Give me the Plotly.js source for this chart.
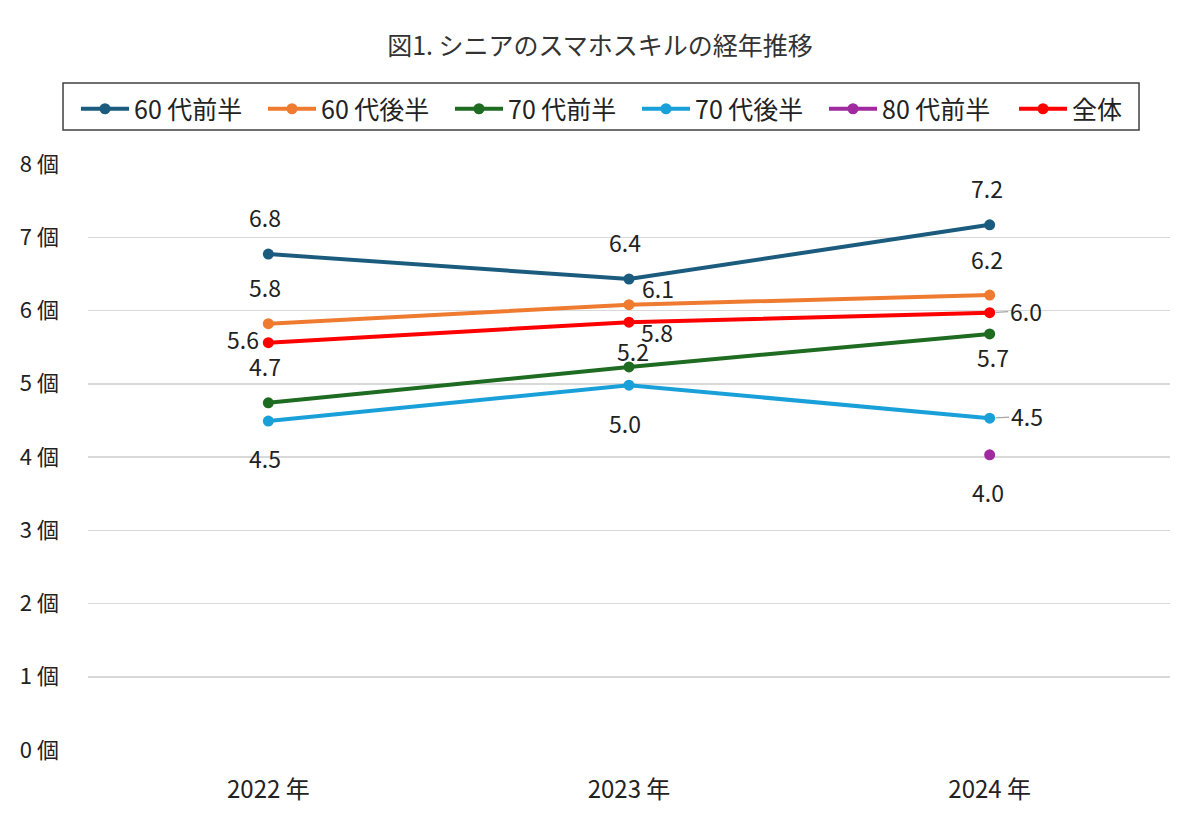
<!DOCTYPE html>
<html>
<head>
<meta charset="utf-8">
<script src="https://cdn.plot.ly/plotly-3.0.1.min.js"></script>
<style>html,body{margin:0;padding:0;background:#fff;}#chart{width:1200px;height:827px;}</style>
</head>
<body>
<div id="chart"></div>
<script>
// ---- data ----
const years = ["2022 年", "2023 年", "2024 年"];
const seriesNames = ["60 代前半", "60 代後半", "70 代前半", "70 代後半", "80 代前半", "全体"];
const s60early = [6.77, 6.43, 7.17];
const s60late  = [5.82, 6.08, 6.21];
const s70early = [4.74, 5.23, 5.68];
const s70late  = [4.49, 4.98, 4.53];
const s80early = [null, null, 4.03];
const sTotal   = [5.56, 5.84, 5.97];
const yTicks = [0, 1, 2, 3, 4, 5, 6, 7, 8];
const yTickText = yTicks.map(v => v + ' 個');

// ---- styles ----
const FONT = '"Noto Sans CJK JP", "Noto Sans", sans-serif';
const colors = ["#1b5c7e", "#ee7b30", "#1e6b22", "#1aa0d9", "#a02ba0", "#ff0000"];
const values = [s60early, s60late, s70early, s70late, s80early, sTotal];
// which legend box group each series goes into (last one placed separately to avoid wrapping)
const legendGroupOf = ['legend', 'legend', 'legend', 'legend', 'legend', 'legend2'];
// label offsets (px) per series/point: [ax, ay, leader]
const labelOffsets = [
  [[-3, -37], [-4, -37], [-3, -37]],
  [[-3, -37], [29, -17], [-3, -36]],
  [[-3, -37], [4, -16], [3, 23]],
  [[-3, 37], [-4, 38], [37, -2, true]],
  [null, null, [-2, 37]],
  [[-25, -4], [28, 10], [36, -2, true]]
];

const traces = values.map((v, i) => ({
  type: 'scatter', mode: 'lines+markers',
  x: years, y: v, name: seriesNames[i],
  legend: legendGroupOf[i],
  line: {color: colors[i], width: 4},
  marker: {color: colors[i], size: 11},
  hoverinfo: 'skip'
}));

const annotations = [];
values.forEach((v, i) => {
  v.forEach((val, j) => {
    if (val === null) return;
    const off = labelOffsets[i][j];
    const leader = !!off[2];
    annotations.push({
      x: years[j], y: val, xref: 'x', yref: 'y',
      text: val.toFixed(1),
      showarrow: true, ax: off[0], ay: off[1],
      arrowhead: 0, arrowwidth: 1.2,
      arrowcolor: leader ? '#a6a6a6' : 'rgba(0,0,0,0)',
      standoff: leader ? 6 : 0,
      font: {family: FONT, size: 23, color: '#222'}
    });
  });
});

const legendCommon = {
  orientation: 'h', xref: 'container', yref: 'container',
  xanchor: 'left', y: 1 - 86 / 827, yanchor: 'top',
  itemwidth: 48, entrywidth: 124, entrywidthmode: 'pixels',
  font: {family: FONT, size: 25, color: '#222'},
  bgcolor: 'rgba(0,0,0,0)', borderwidth: 0,
  traceorder: 'normal', itemclick: false
};

const layout = {
  width: 1200, height: 827,
  margin: {l: 88, r: 30, t: 164, b: 77},
  paper_bgcolor: '#fff', plot_bgcolor: '#fff',
  font: {family: FONT, color: '#222'},
  title: {
    text: '図1. シニアのスマホスキルの経年推移',
    font: {family: FONT, size: 25, color: '#333'},
    x: 0.5, xref: 'container', xanchor: 'center',
    y: 1 - 46 / 827, yref: 'container', yanchor: 'middle'
  },
  xaxis: {
    type: 'category', range: [-0.5, 2.5],
    showgrid: false, zeroline: false, showline: false, ticks: '',
    ticklabelstandoff: 23,
    tickfont: {family: FONT, size: 24, color: '#222'}
  },
  yaxis: {
    range: [0, 8], tickmode: 'array', tickvals: yTicks, ticktext: yTickText,
    showgrid: true, gridcolor: '#d9d9d9', gridwidth: 1.5,
    zeroline: false, showline: false, ticks: '',
    ticklabelstandoff: 28,
    tickfont: {family: FONT, size: 22, color: '#222'}
  },
  showlegend: true,
  legend: Object.assign({}, legendCommon, {x: 76 / 1200}),
  legend2: Object.assign({}, legendCommon, {x: 1014 / 1200, entrywidth: 60}),
  shapes: [{
    type: 'rect', xref: 'paper', yref: 'paper',
    x0: (63 - 88) / 1083, x1: (1140 - 88) / 1083,
    y0: (750 - 130) / 586, y1: (750 - 83) / 586,
    line: {color: '#404040', width: 1.5}, fillcolor: 'rgba(0,0,0,0)', layer: 'above'
  }],
  annotations: annotations
};

Plotly.newPlot('chart', traces, layout, {displayModeBar: false, staticPlot: true});
</script>
</body>
</html>
